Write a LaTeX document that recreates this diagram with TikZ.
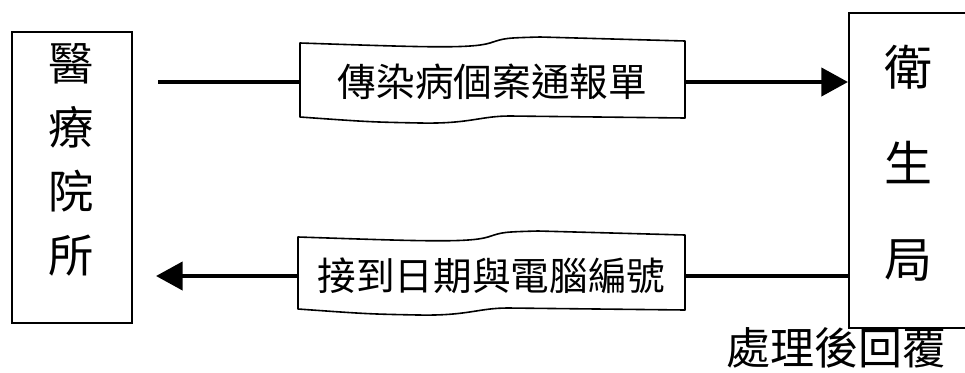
\documentclass[tikz,border=0pt]{standalone}
\usepackage{fontspec}
\setmainfont{Noto Sans CJK TC}
\usetikzlibrary{arrows.meta}
\begin{document}
\begin{tikzpicture}[x=0.75pt,y=-0.75pt,
  box/.style={draw,line width=1.5pt,inner sep=0pt},
  tape/.style={draw,line width=1.2pt,fill=white,line join=round},
  conn/.style={line width=3.2pt},
  tip/.style={-{Triangle[length=20pt,width=21pt]}},
  doctext/.style={inner sep=0pt,minimum width=288pt,minimum height=50pt,font=\fontsize{29}{34}\selectfont}]
\useasboundingbox (0,0) rectangle (965,372);
% boxes
\node[box,minimum width=90pt,minimum height=218.25pt] (L) at (72,177.5) {};
\node[box,minimum width=88.5pt,minimum height=236.25pt] (R) at (908,170.5) {};
\node[align=center,inner sep=0pt,font=\fontsize{34}{48}\selectfont] (Ltxt) at (71,160) {醫\\療\\院\\所};
\node[align=center,inner sep=0pt,font=\fontsize{36}{72}\selectfont] (Rtxt) at (908,163) {衛\\生\\局};
% tape shapes
\draw[tape] (300,43) .. controls (420,47) and (470,49) .. (490,43) .. controls (505,38) .. (540,37) -- (685,41)
  -- (685,118) -- (510,116) .. controls (480,116) and (470,124) .. (420,123) .. controls (370,122) .. (300,117) -- cycle;
\begin{scope}[shift={(-2,194)}]
\draw[tape] (300,43) .. controls (420,47) and (470,49) .. (490,43) .. controls (505,38) .. (540,37) -- (687,41)
  -- (687,116) -- (510,114) .. controls (480,114) and (470,122) .. (420,121) .. controls (370,120) .. (300,115) -- cycle;
\end{scope}
\node[doctext] (doc1) at (492.5,82) {傳染病個案通報單};
\node[doctext] (doc2) at (491.5,276) {接到日期與電腦編號};
% connectors
\draw[conn,shorten <=18.75pt] (L.east |- doc1.west) -- (doc1.west);
\draw[conn,tip] (doc1.east) -- (doc1.east -| R.west);
\draw[conn] (R.west |- doc2.east) -- (doc2.east);
\draw[conn,tip,shorten >=17.25pt] (doc2.west) -- (doc2.west -| L.east);
% label
\node[inner sep=0pt,font=\fontsize{33}{38}\selectfont] (lab) at (836,348) {處理後回覆};
\end{tikzpicture}
\end{document}
